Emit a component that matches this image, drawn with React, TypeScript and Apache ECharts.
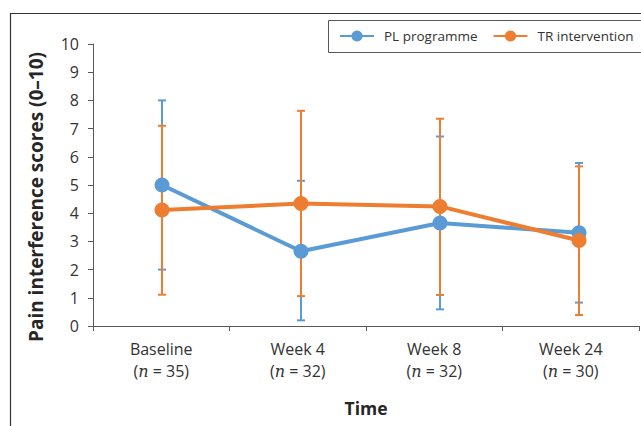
import React, { useEffect, useRef } from "react";
import * as echarts from "echarts";

const categories = ["Baseline", "Week 4", "Week 8", "Week 24"];
const sampleSizes = [35, 32, 32, 30];
const yTicks = { min: 0, max: 10, interval: 1 };

const plMean = [5.0, 2.65, 3.65, 3.31];
const plUpper = [8.0, 5.15, 6.72, 5.78];
const plLower = [2.0, 0.2, 0.59, 0.83];

const trMean = [4.11, 4.34, 4.24, 3.03];
const trUpper = [7.1, 7.63, 7.35, 5.66];
const trLower = [1.11, 1.06, 1.1, 0.39];

const BLUE = "#5B9BD5";
const ORANGE = "#ED7D31";
const FONT = "'Open Sans', 'Noto Sans', sans-serif";
const TEXT = "#333333";

function errorSeries(color: string, lower: number[], upper: number[], z: number) {
  return {
    type: "custom",
    xAxisIndex: 1,
    z,
    silent: true,
    encode: { x: 0, y: [1, 2] },
    data: lower.map((lo, i) => [i, lo, upper[i]]),
    renderItem: (params: any, api: any) => {
      const x = api.value(0);
      const pLo = api.coord([x, api.value(1)]);
      const pHi = api.coord([x, api.value(2)]);
      const cap = 4;
      const style = { stroke: color, lineWidth: 2 };
      return {
        type: "group",
        children: [
          { type: "line", shape: { x1: pLo[0], y1: pLo[1], x2: pHi[0], y2: pHi[1] }, style },
          { type: "line", shape: { x1: pLo[0] - cap, y1: pLo[1], x2: pLo[0] + cap, y2: pLo[1] }, style },
          { type: "line", shape: { x1: pHi[0] - cap, y1: pHi[1], x2: pHi[0] + cap, y2: pHi[1] }, style },
        ],
      };
    },
  };
}

export default function App() {
  const ref = useRef<HTMLDivElement>(null);
  useEffect(() => {
    if (!ref.current) return;
    const chart = echarts.init(ref.current, null, { renderer: "svg" });
    const option: any = {
      animation: false,
      backgroundColor: "#ffffff",
      grid: { left: 93, right: 2, top: 44, bottom: 100, containLabel: false },
      legend: {
        data: ["PL programme", "TR intervention"],
        left: 339,
        top: 29,
        padding: 0,
        itemWidth: 34,
        itemHeight: 14,
        itemGap: 15,
        textStyle: { fontFamily: FONT, fontSize: 13.5, color: TEXT, padding: [0, 0, 0, 5] },
      },
      xAxis: [
        {
          type: "category",
          data: categories,
          boundaryGap: true,
          axisLine: { lineStyle: { color: "#595959", width: 1 } },
          axisTick: { show: true, length: 5, lineStyle: { color: "#595959" } },
          axisLabel: {
            margin: 12,
            interval: 0,
            formatter: (v: string, i: number) =>
              `{a|${v}}\n{b|(}{n|n}{b| = ${sampleSizes[i]})}`,
            rich: {
              a: { fontFamily: FONT, fontSize: 16, color: TEXT, lineHeight: 22 },
              b: { fontFamily: FONT, fontSize: 16, color: TEXT, lineHeight: 22 },
              n: {
                fontFamily: "'DejaVu Serif', 'Liberation Serif', serif",
                fontStyle: "italic",
                fontSize: 16,
                color: TEXT,
                lineHeight: 22,
              },
            },
          },
          splitLine: { show: false },
        },
        {
          type: "value",
          show: false,
          min: -0.4964,
          max: 3.4316,
        },
      ],
      yAxis: {
        type: "value",
        min: yTicks.min,
        max: yTicks.max,
        interval: yTicks.interval,
        axisLine: { show: true, onZero: false, lineStyle: { color: "#595959", width: 1 } },
        axisTick: { show: true, length: 5, lineStyle: { color: "#595959" } },
        axisLabel: { margin: 14, fontFamily: FONT, fontSize: 16, color: TEXT },
        splitLine: { show: false },
      },
      graphic: [
        {
          type: "line",
          shape: { x1: 10.5, y1: 13, x2: 10.5, y2: 426 },
          style: { stroke: "#333333", lineWidth: 1.2 },
        },
        {
          type: "line",
          shape: { x1: 10, y1: 13.5, x2: 641, y2: 13.5 },
          style: { stroke: "#333333", lineWidth: 1.2 },
        },
        {
          type: "rect",
          shape: { x: 328.5, y: 20.5, width: 320, height: 32 },
          style: { fill: "none", stroke: "#595959", lineWidth: 1 },
        },
        {
          type: "text",
          x: 36,
          y: 197,
          rotation: Math.PI / 2,
          style: {
            text: "Pain interference scores (0\u201310)",
            font: `bold 19px ${FONT}`,
            fill: "#262626",
            textAlign: "center",
            textVerticalAlign: "middle",
          },
        },
        {
          type: "text",
          x: 366,
          y: 408,
          style: {
            text: "Time",
            font: `bold 17.5px ${FONT}`,
            fill: "#262626",
            textAlign: "center",
            textVerticalAlign: "middle",
          },
        },
      ],
      series: [
        errorSeries(BLUE, plLower, plUpper, 2),
        errorSeries(ORANGE, trLower, trUpper, 3),
        {
          name: "PL programme",
          type: "line",
          xAxisIndex: 1,
          z: 4,
          data: plMean.map((v, i) => [i, v]),
          symbol: "circle",
          symbolSize: 15,
          lineStyle: { color: BLUE, width: 4 },
          itemStyle: { color: BLUE },
        },
        {
          name: "TR intervention",
          type: "line",
          xAxisIndex: 1,
          z: 5,
          data: trMean.map((v, i) => [i, v]),
          symbol: "circle",
          symbolSize: 15,
          lineStyle: { color: ORANGE, width: 4 },
          itemStyle: { color: ORANGE },
        },
      ],
    };
    chart.setOption(option);
    return () => chart.dispose();
  }, []);
  return (
    <div
      ref={ref}
      style={{ position: "fixed", left: 0, top: 0, width: 641, height: 426 }}
    />
  );
}
